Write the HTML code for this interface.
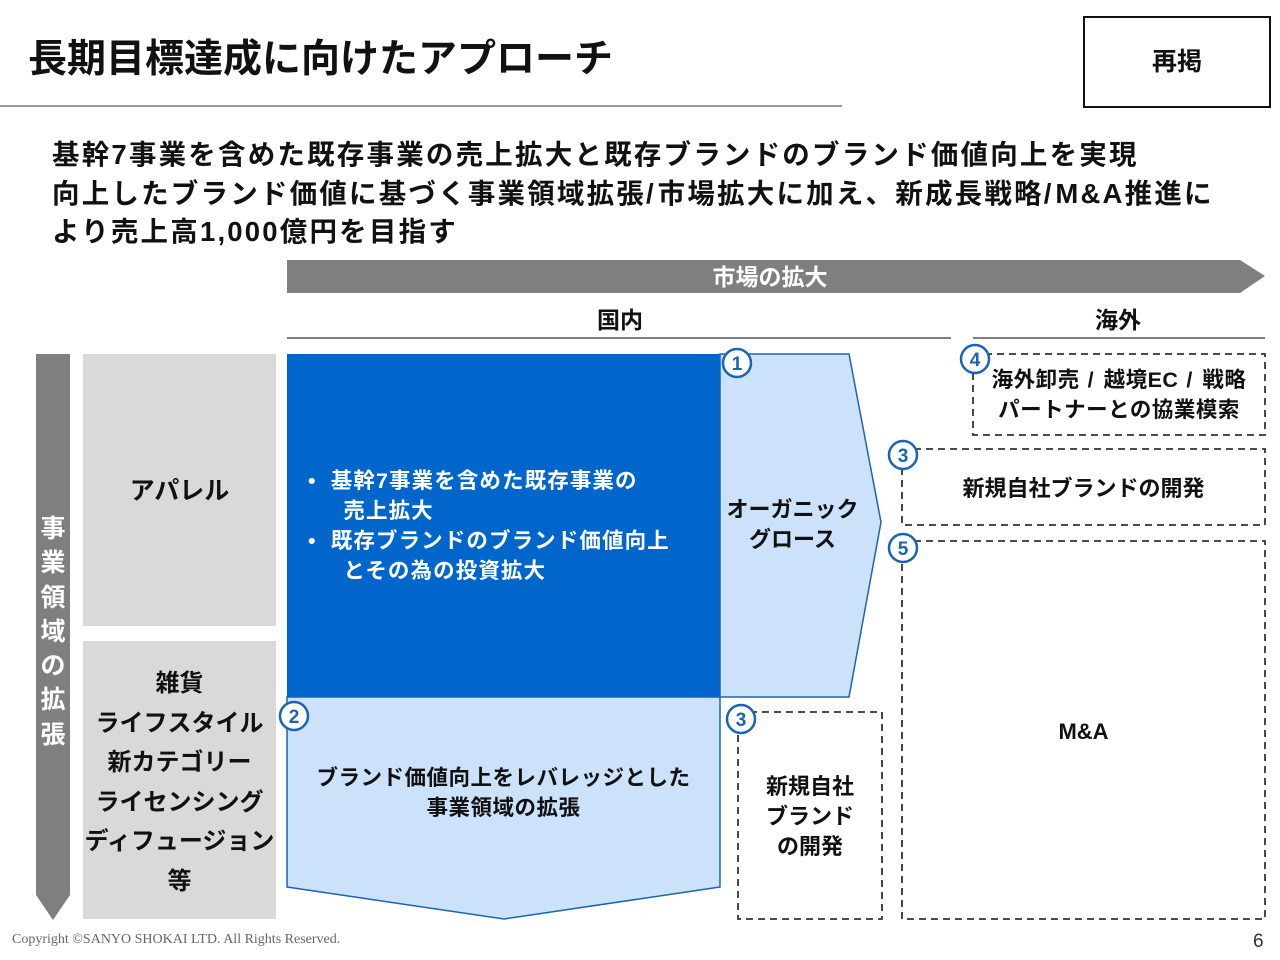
<!DOCTYPE html>
<html><head><meta charset="utf-8"><style>
body{margin:0;width:1280px;height:960px;background:#fff;position:relative;overflow:hidden;font-family:"Liberation Sans","Noto Sans CJK JP",sans-serif;font-weight:bold;color:#111}
.a{position:absolute;white-space:nowrap}
.c{text-align:center}
</style></head><body>
<div class="a" style="left:28px;top:36px;font-size:39px;line-height:48px">長期目標達成に向けたアプローチ</div>
<div class="a" style="left:0;top:105px;width:842px;height:2px;background:#999"></div>
<div class="a" style="left:1083px;top:16px;width:184px;height:88px;border:2px solid #111;"></div>
<div class="a c" style="left:1083px;top:46px;width:188px;font-size:25px;line-height:32px">再掲</div>
<div class="a" style="left:52px;top:136px;font-size:27.5px;line-height:38.5px;letter-spacing:2.2px">基幹7事業を含めた既存事業の売上拡大と既存ブランドのブランド価値向上を実現<br>向上したブランド価値に基づく事業領域拡張<span style="letter-spacing:4px">/</span>市場拡大に加え、新成長戦略<span style="letter-spacing:4px">/</span>M&amp;A推進に<br>より売上高1,000億円を目指す</div>
<svg class="a" style="left:0;top:0" width="1280" height="960">
<polygon points="287,260 1240,260 1265,276 1240,293 287,293" fill="#7f7f7f"/>
<line x1="287" y1="338" x2="951" y2="338" stroke="#555" stroke-width="1.5"/>
<line x1="973" y1="338" x2="1265" y2="338" stroke="#555" stroke-width="1.5"/>
<polygon points="36,354 70,354 70,895 53,920 36,895" fill="#7f7f7f"/>
<rect x="83" y="354" width="193" height="272" fill="#d9d9d9"/>
<rect x="83" y="641" width="193" height="278" fill="#d9d9d9"/>
<rect x="287" y="354" width="433" height="343" fill="#0066cc"/>
<polygon points="720,354 849,354 881,522 849,697 720,697" fill="#cce2fb" stroke="#1a63b8" stroke-width="1.5"/>
<polygon points="287,697 720,697 720,887 504,919 287,887" fill="#cce2fb" stroke="#1a63b8" stroke-width="1.5"/>
<g fill="none" stroke="#333" stroke-width="1.8" stroke-dasharray="7,5">
<rect x="973" y="354" width="292" height="81"/>
<rect x="902" y="449" width="363" height="76"/>
<rect x="902" y="541" width="363" height="378"/>
<rect x="738" y="712" width="144" height="207"/>
</g>
<g fill="#fff" stroke="#1a63b8" stroke-width="2.5">
<circle cx="737" cy="363" r="14"/><circle cx="975" cy="359" r="14"/><circle cx="903" cy="455" r="14"/><circle cx="903" cy="548" r="14"/><circle cx="294" cy="716" r="14"/><circle cx="741" cy="719" r="14"/>
</g>
<g fill="#1a63b8" font-size="19" font-weight="bold" text-anchor="middle" font-family="Liberation Sans,sans-serif">
<text x="737" y="370">1</text><text x="975" y="366">4</text><text x="903" y="462">3</text><text x="903" y="555">5</text><text x="294" y="723">2</text><text x="741" y="726">3</text>
</g>
</svg>
<div class="a c" style="left:287px;top:261px;width:966px;font-size:23px;line-height:32px;color:#fff">市場の拡大</div>
<div class="a c" style="left:520px;top:305px;width:200px;font-size:23px;line-height:30px">国内</div>
<div class="a c" style="left:1018px;top:305px;width:200px;font-size:23px;line-height:30px">海外</div>
<div class="a c" style="left:36px;top:512px;width:34px;font-size:25px;line-height:34.3px;color:#fff;white-space:normal">事業領域の拡張</div>
<div class="a c" style="left:83px;top:475px;width:193px;font-size:25px;line-height:32px">アパレル</div>
<div class="a c" style="left:83px;top:664px;width:193px;font-size:24px;line-height:39.5px">雑貨<br>ライフスタイル<br>新カテゴリー<br>ライセンシング<br>ディフュージョン<br>等</div>
<div class="a" style="left:308px;top:466px;font-size:21.5px;line-height:30px;color:#fff;letter-spacing:1.1px">•&nbsp;&nbsp;基幹7事業を含めた既存事業の<br>&nbsp;&nbsp;&nbsp;&nbsp;&nbsp;売上拡大<br>•&nbsp;&nbsp;既存ブランドのブランド価値向上<br>&nbsp;&nbsp;&nbsp;&nbsp;&nbsp;とその為の投資拡大</div>
<div class="a c" style="left:720px;top:495px;width:145px;font-size:22px;line-height:30px">オーガニック<br>グロース</div>
<div class="a c" style="left:287px;top:763px;width:433px;font-size:21.5px;line-height:30px;letter-spacing:0.5px">ブランド価値向上をレバレッジとした<br>事業領域の拡張</div>
<div class="a c" style="left:738px;top:772px;width:144px;font-size:22px;line-height:30px">新規自社<br>ブランド<br>の開発</div>
<div class="a c" style="left:973px;top:365px;width:292px;font-size:21.5px;line-height:30px;letter-spacing:0.5px">海外卸売<span style="letter-spacing:2px"> / </span>越境EC<span style="letter-spacing:2px"> / </span>戦略<br>パートナーとの協業模索</div>
<div class="a c" style="left:902px;top:474px;width:363px;font-size:22px;line-height:30px">新規自社ブランドの開発</div>
<div class="a c" style="left:902px;top:717px;width:363px;font-size:22px;line-height:30px">M&amp;A</div>
<div class="a" style="left:12px;top:932px;font-size:14px;font-weight:normal;color:#666;font-family:'Liberation Serif',serif">Copyright ©SANYO SHOKAI LTD. All Rights Reserved.</div>
<div class="a" style="left:1253px;top:931px;font-size:19px;font-weight:normal;color:#333">6</div>
</body></html>
